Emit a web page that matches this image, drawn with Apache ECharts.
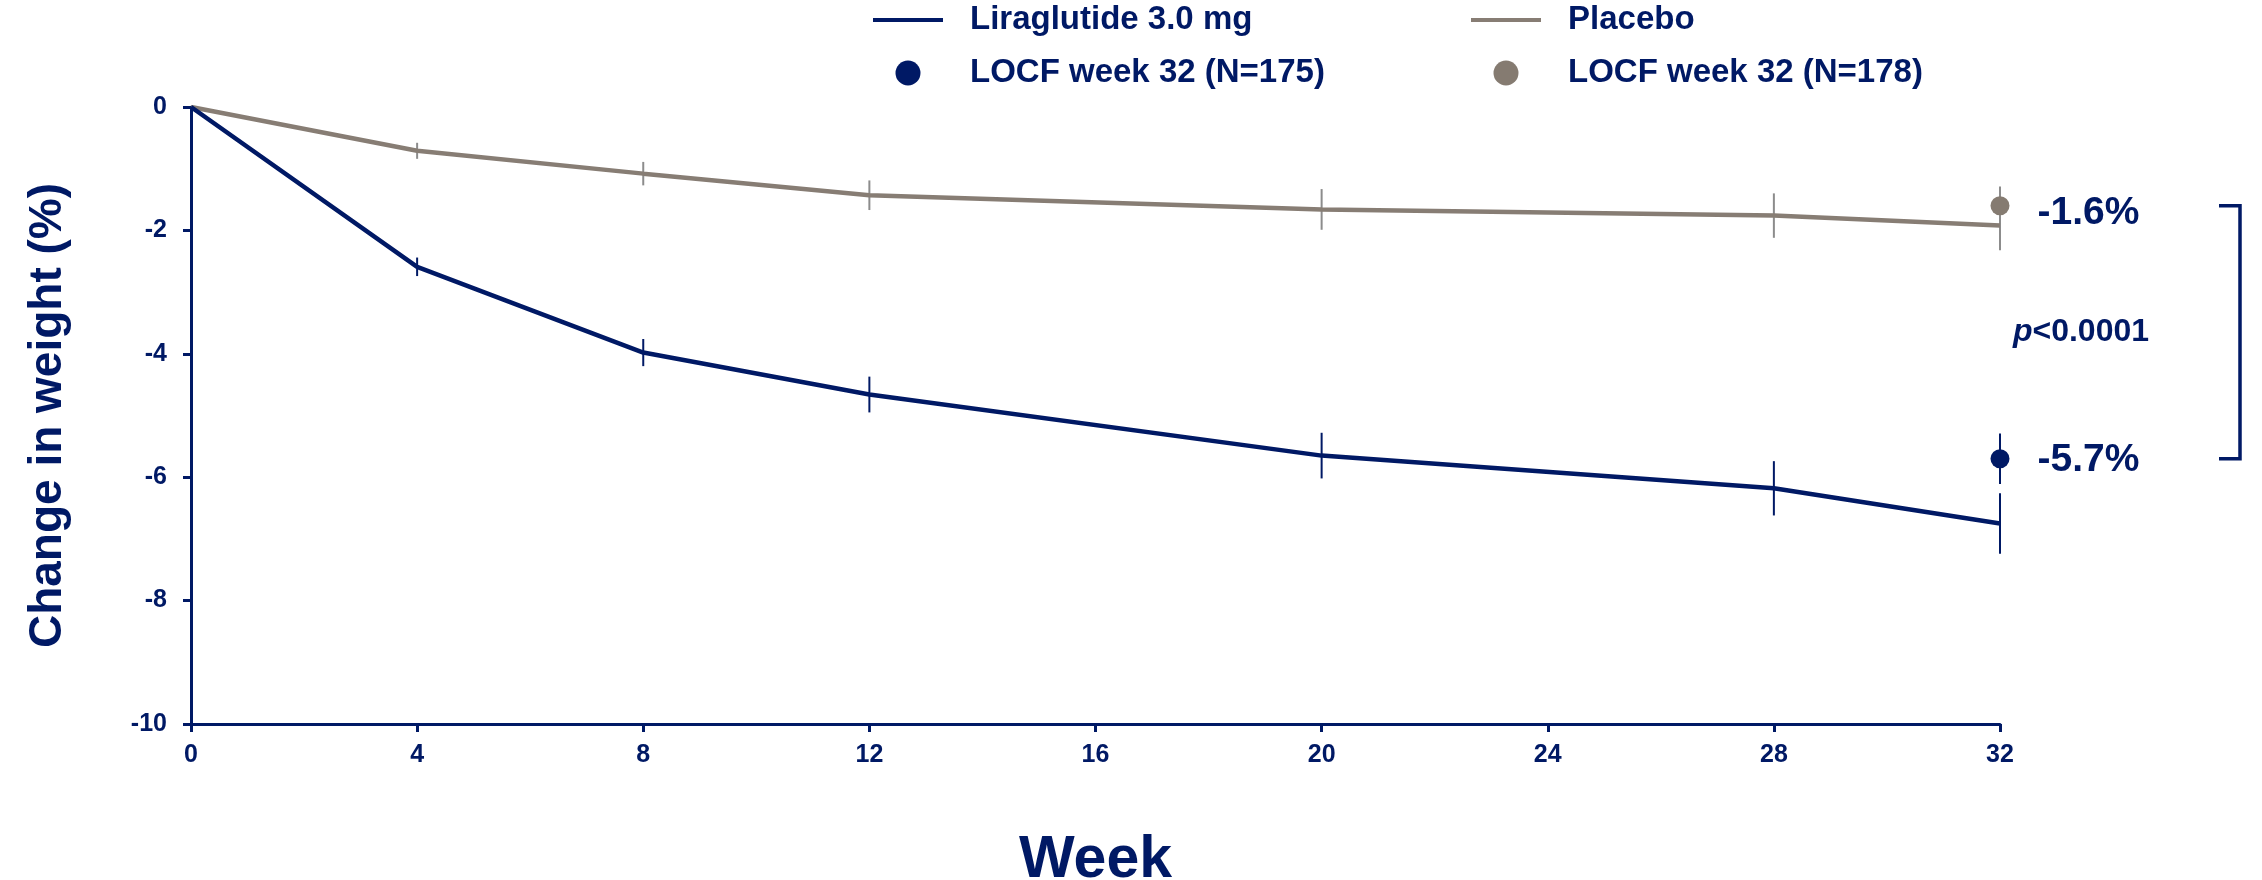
<!DOCTYPE html>
<html>
<head>
<meta charset="utf-8">
<script src="https://cdn.jsdelivr.net/npm/echarts@6/dist/echarts.min.js"></script>
<style>
html,body{margin:0;padding:0;background:#fff;}
#chart{width:2262px;height:880px;}
</style>
</head>
<body>
<div id="chart"></div>
<script>
// ---- data ----
const weeks = [0, 4, 8, 12, 20, 28, 32];
const liraMean = [0, -2.59, -3.98, -4.66, -5.65, -6.18, -6.75];
const liraSE = [0, 0.15, 0.22, 0.29, 0.37, 0.44, 0.49];
const placeboMean = [0, -0.71, -1.08, -1.43, -1.66, -1.76, -1.92];
const placeboSE = [0, 0.13, 0.19, 0.24, 0.33, 0.36, 0.40];
const locfWeek = 32;
const locfLira = -5.7;
const locfLiraSE = 0.41;
const locfPlacebo = -1.6;
const locfPlaceboSE = 0.31;
const pValueText = '<0.0001';
const xTicks = {min: 0, max: 32, interval: 4};
const yTicks = {min: -10, max: 0, interval: 2};
const seriesNames = ['Liraglutide 3.0 mg', 'Placebo', 'LOCF week 32 (N=175)', 'LOCF week 32 (N=178)'];

const NAVY = '#001965';
const GRAY = '#877d74';
const GRAY_DOT = '#857b71';
const GRAY_BAR = '#8c8c8c';
const FONT = '"Liberation Sans", Arial, sans-serif';
const LINE_ICON = 'path://M0,0H70V4H0Z';

function pairs(xs, ys) { return xs.map((x, i) => [x, ys[i]]); }
function bars(xs, m, se) {
  const out = [];
  xs.forEach((x, i) => { if (se[i] > 0) out.push([x, m[i] - se[i], m[i] + se[i]]); });
  return out;
}
function errorRender(color) {
  return function (params, api) {
    const x = api.value(0);
    const a = api.coord([x, api.value(1)]);
    const b = api.coord([x, api.value(2)]);
    return {
      type: 'line',
      shape: {x1: a[0], y1: a[1], x2: b[0], y2: b[1]},
      style: {stroke: color, lineWidth: 2}
    };
  };
}

const chart = echarts.init(document.getElementById('chart'));
const legendText = {fontFamily: FONT, fontSize: 33, fontWeight: 'bold', color: NAVY, lineHeight: 34, padding: [0, 0, 0, 22]};
const labelStyle = {
  show: true, position: 'right', distance: 28,
  formatter: p => p.value[1].toFixed(1) + '%',
  fontFamily: FONT, fontSize: 39, fontWeight: 'bold', color: NAVY, opacity: 1
};

chart.setOption({
  animation: false,
  backgroundColor: '#fff',
  grid: {left: 191, right: 262, top: 107, bottom: 156, outerBoundsMode: 'none', containLabel: false},
  legend: [
    {
      data: [{name: seriesNames[0], icon: LINE_ICON}, {name: seriesNames[2], icon: 'circle'}],
      orient: 'vertical', left: 873, top: 3, padding: 0,
      itemWidth: 70, itemHeight: 25, itemGap: 19, symbolKeepAspect: true,
      textStyle: legendText, selectedMode: false
    },
    {
      data: [{name: seriesNames[1], icon: LINE_ICON}, {name: seriesNames[3], icon: 'circle'}],
      orient: 'vertical', left: 1471, top: 3, padding: 0,
      itemWidth: 70, itemHeight: 25, itemGap: 19, symbolKeepAspect: true,
      textStyle: legendText, selectedMode: false
    }
  ],
  xAxis: {
    type: 'value', min: xTicks.min, max: xTicks.max, interval: xTicks.interval,
    name: 'Week', nameLocation: 'middle', nameGap: 107,
    nameTextStyle: {fontFamily: FONT, fontSize: 59, fontWeight: 'bold', color: NAVY},
    axisLine: {onZero: false, lineStyle: {color: NAVY, width: 3}},
    axisTick: {show: true, length: 8, lineStyle: {color: NAVY, width: 3}},
    axisLabel: {fontFamily: FONT, fontSize: 25, fontWeight: 'bold', color: NAVY, margin: 19},
    splitLine: {show: false}
  },
  yAxis: {
    type: 'value', min: yTicks.min, max: yTicks.max, interval: yTicks.interval,
    name: 'Change in weight (%)', nameLocation: 'middle', nameGap: 120,
    nameTextStyle: {fontFamily: FONT, fontSize: 46, fontWeight: 'bold', color: NAVY},
    axisLine: {onZero: false, lineStyle: {color: NAVY, width: 3}},
    axisTick: {show: true, length: 8, lineStyle: {color: NAVY, width: 3}},
    axisLabel: {fontFamily: FONT, fontSize: 25, fontWeight: 'bold', color: NAVY, margin: 24},
    splitLine: {show: false}
  },
  series: [
    {
      name: seriesNames[1], type: 'line', data: pairs(weeks, placeboMean),
      symbol: 'none', lineStyle: {color: GRAY, width: 4.5}, itemStyle: {color: GRAY}, z: 3
    },
    {
      name: seriesNames[0], type: 'line', data: pairs(weeks, liraMean),
      symbol: 'none', lineStyle: {color: NAVY, width: 4.5}, itemStyle: {color: NAVY}, z: 3
    },
    {
      name: 'placeboErr', type: 'custom', renderItem: errorRender(GRAY_BAR),
      data: bars(weeks, placeboMean, placeboSE).concat(bars([locfWeek], [locfPlacebo], [locfPlaceboSE])),
      z: 2, silent: true
    },
    {
      name: 'liraErr', type: 'custom', renderItem: errorRender(NAVY),
      data: bars(weeks, liraMean, liraSE).concat(bars([locfWeek], [locfLira], [locfLiraSE])),
      z: 2, silent: true
    },
    {
      name: seriesNames[3], type: 'scatter', symbol: 'circle', symbolSize: 19,
      itemStyle: {color: GRAY_DOT, opacity: 1}, z: 5,
      data: [{value: [locfWeek, locfPlacebo], label: {offset: [0, 8]}}],
      label: labelStyle
    },
    {
      name: seriesNames[2], type: 'scatter', symbol: 'circle', symbolSize: 19,
      itemStyle: {color: NAVY, opacity: 1}, z: 5,
      data: [{value: [locfWeek, locfLira], label: {offset: [0, 2]}}],
      label: labelStyle
    },
    {
      name: 'bracket', type: 'custom', silent: true, clip: false, z: 4,
      data: [[locfWeek, locfPlacebo, locfLira]],
      renderItem: function (params, api) {
        const top = api.coord([api.value(0), api.value(1)]);
        const bot = api.coord([api.value(0), api.value(2)]);
        const xa = top[0] + 219, xb = top[0] + 240;
        return {
          type: 'group',
          children: [
            {
              type: 'polyline',
              shape: {points: [[xa, top[1]], [xb, top[1]], [xb, bot[1]], [xa, bot[1]]]},
              style: {stroke: NAVY, lineWidth: 3.5, fill: null}
            },
            {
              type: 'text',
              x: top[0] + 81, y: (top[1] + bot[1]) / 2,
              style: {
                text: '{i|p}{n|' + pValueText + '}',
                align: 'center', verticalAlign: 'middle',
                rich: {
                  i: {fontFamily: FONT, fontSize: 32, fontWeight: 'bold', fontStyle: 'italic', fill: NAVY},
                  n: {fontFamily: FONT, fontSize: 32, fontWeight: 'bold', fill: NAVY}
                }
              }
            }
          ]
        };
      }
    }
  ]
});
</script>
</body>
</html>
